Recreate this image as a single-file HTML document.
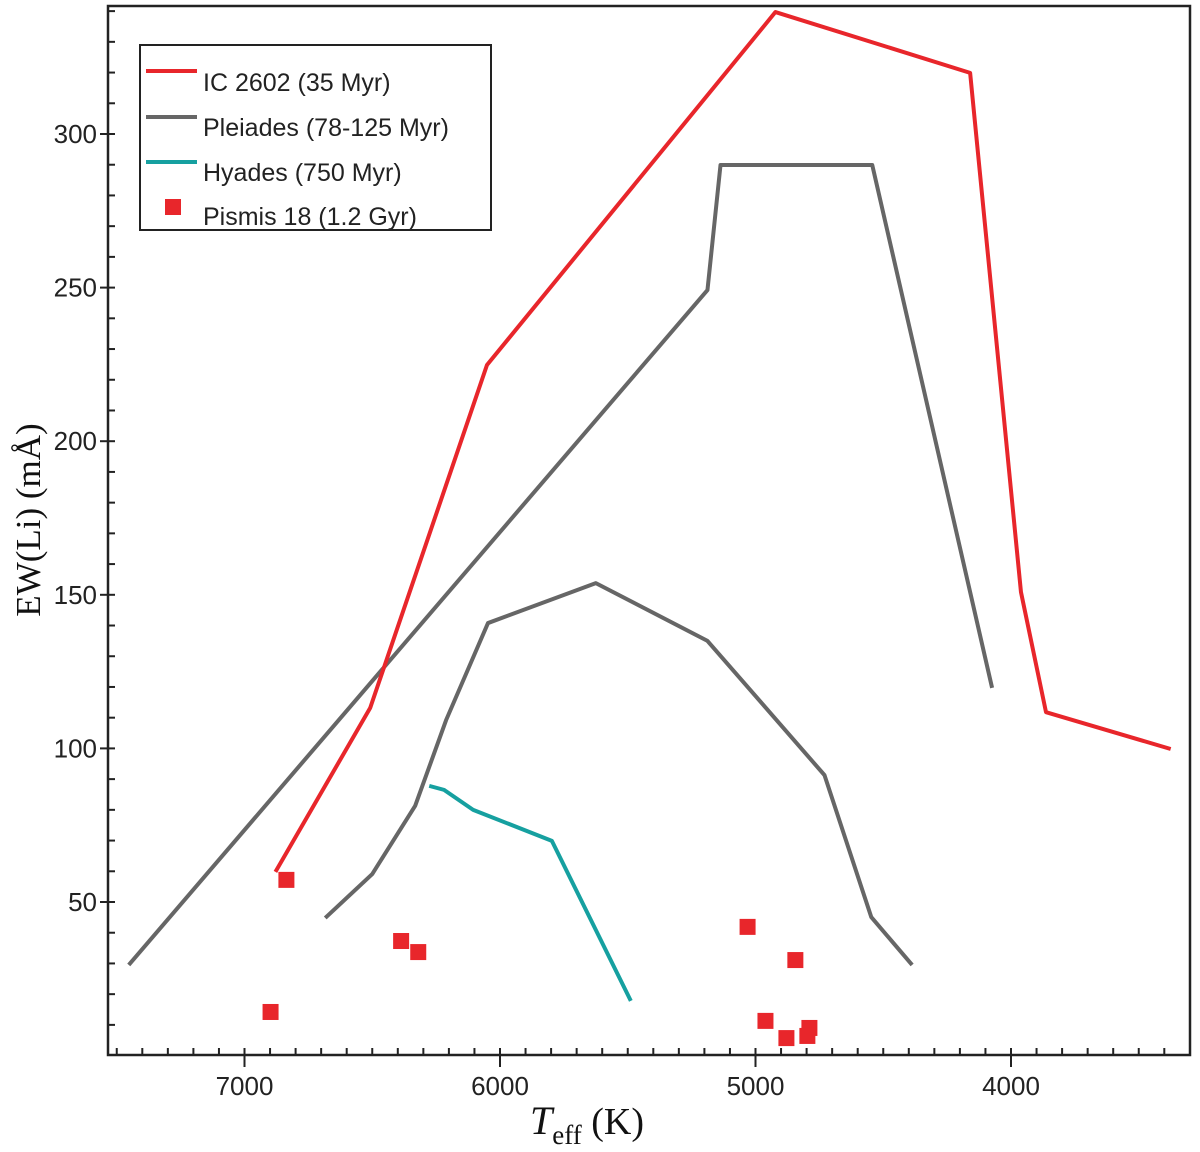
<!DOCTYPE html>
<html><head><meta charset="utf-8"><style>
body{margin:0;background:#fff;}
svg{display:block;}
</style></head><body>
<svg id="chart" width="1200" height="1152" xmlns="http://www.w3.org/2000/svg">
<g id="axes"></g>
<g id="series"></g>
<g id="legend">
<rect x="140" y="45" width="351" height="185" fill="#fff" stroke="#222" stroke-width="2"/>
<line x1="146" y1="71" x2="197" y2="71" stroke="#e8262b" stroke-width="4"/>
<text x="203" y="91" font-family="Liberation Sans, sans-serif" font-size="25" fill="#222">IC 2602 (35 Myr)</text>
<line x1="146" y1="117" x2="197" y2="117" stroke="#666" stroke-width="4"/>
<text x="203" y="136" font-family="Liberation Sans, sans-serif" font-size="25" fill="#222">Pleiades (78-125 Myr)</text>
<line x1="146" y1="162" x2="197" y2="162" stroke="#16a0a0" stroke-width="4"/>
<text x="203" y="181" font-family="Liberation Sans, sans-serif" font-size="25" fill="#222">Hyades (750 Myr)</text>
<rect x="165" y="199" width="16" height="16" fill="#e8262b"/>
<text x="203" y="225" font-family="Liberation Sans, sans-serif" font-size="25" fill="#222">Pismis 18 (1.2 Gyr)</text>
</g>
<text x="40" y="520" transform="rotate(-90 40 520)" text-anchor="middle" font-family="Liberation Serif, serif" font-size="35" fill="#111">EW(Li) (mÅ)</text>
<text x="530" y="1134" font-family="Liberation Serif, serif" font-size="40" font-style="italic" fill="#111">T<tspan font-style="normal" font-size="27" dy="10">eff</tspan><tspan font-style="normal" font-size="38" dy="-10"> (K)</tspan></text>
</svg>
<script>
const xTicks=[7000,6000,5000,4000];
const yTicks=[50,100,150,200,250,300];
const ic2602T=[6879,6508,6051,4922,4160,3961,3863,3375];
const ic2602V=[59.8,113.2,224.8,339.7,319.9,150.9,111.8,99.8];
const pleiadesUpT=[7453,5188,5137,4543,4074];
const pleiadesUpV=[29.5,249.2,289.9,289.9,119.7];
const pleiadesLoT=[6684,6500,6332,6211,6047,5625,5188,4730,4547,4387];
const pleiadesLoV=[44.8,59.1,81.3,109.2,140.8,153.8,135,91.3,45.1,29.5];
const hyadesT=[6277,6219,6105,5797,5488];
const hyadesV=[87.8,86.5,80,69.9,17.8];
const pismisT=[6836,6898,6387,6320,5031,4844,4961,4879,4789,4797];
const pismisV=[57.2,14.2,37.3,33.7,41.9,31.1,11.3,5.7,9,6.4];

const NS='http://www.w3.org/2000/svg';
const L=108,R=1190,T=6,B=1055;
function xs(t){return 500+(6000-t)*0.2555;}
function ys(v){return 902-(v-50)*3.072;}
function mk(tag,attrs,parent){const e=document.createElementNS(NS,tag);for(const k in attrs)e.setAttribute(k,attrs[k]);parent.appendChild(e);return e;}
const ax=document.getElementById('axes');
let f=mk('rect',{x:L,y:T,width:R-L,height:B-T,fill:'none',stroke:'#222','stroke-width':2.5},ax);


for(let t=7500;t>=3300;t-=100){const x=xs(t);if(x<L+2||x>R-2)continue;const maj=t%1000===0;
 const l=mk('line',{x1:x,x2:x,y1:B-(maj?0:7),y2:B+(maj?12:0),stroke:'#222','stroke-width':2},ax);
 
 
 if(maj){mk('line',{x1:x,x2:x,y1:B-7,y2:B,stroke:'#222','stroke-width':2},ax);}}
for(let v=0;v<=340;v+=10){const y=ys(v);if(y<T+2||y>B-2)continue;const maj=v%50===0;
 const l=mk('line',{x1:L-(maj?8:0),x2:L+7,y1:y,y2:y,stroke:'#222','stroke-width':2},ax);
 
 }
xTicks.forEach(t=>{const e=mk('text',{x:xs(t),y:1095,'text-anchor':'middle','font-family':'Liberation Sans, sans-serif','font-size':26,fill:'#222'},ax);e.textContent=t;
 
 });
yTicks.forEach(v=>{const e=mk('text',{x:97,y:ys(v)+9,'text-anchor':'end','font-family':'Liberation Sans, sans-serif','font-size':26,fill:'#222'},ax);e.textContent=v;
 
 });
const sg=document.getElementById('series');
function line(ts,vs,color,name){const p=mk('polyline',{points:ts.map((t,i)=>xs(t)+','+ys(vs[i])).join(' '),fill:'none',stroke:color,'stroke-width':4,'stroke-linejoin':'round'},sg);
 
 }
line(pleiadesUpT,pleiadesUpV,'#666','pleiades-upper-line');
line(pleiadesLoT,pleiadesLoV,'#666','pleiades-lower-line');
line(hyadesT,hyadesV,'#16a0a0','hyades-line');
line(ic2602T,ic2602V,'#e8262b','ic2602-line');
pismisT.forEach((t,i)=>{const r=mk('rect',{x:xs(t)-8,y:ys(pismisV[i])-8,width:16,height:16,fill:'#e8262b'},sg);
 
 });
</script>
</body></html>
